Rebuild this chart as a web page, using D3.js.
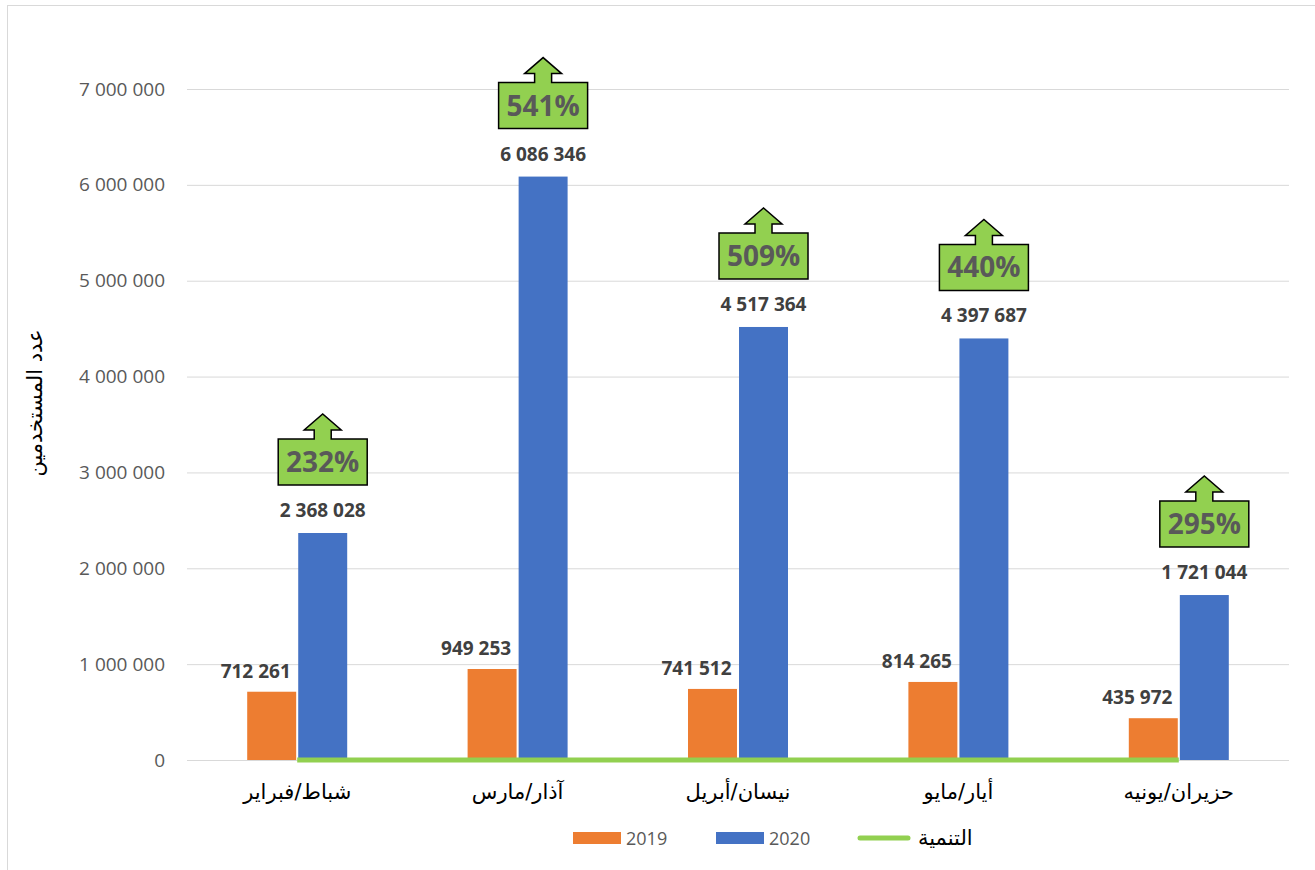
<!DOCTYPE html>
<html>
<head>
<meta charset="utf-8">
<script src="https://cdn.jsdelivr.net/npm/d3@7"></script>
<style>
  body { margin: 0; background: #fff; }
  svg { display: block; }
</style>
</head>
<body>
<div id="chart"></div>
<script>
var w = 1315;
var h = 870;

// data
var months = ["شباط/فبراير", "آذار/مارس", "نيسان/أبريل", "أيار/مايو", "حزيران/يونيه"];
var users2019 = [712261, 949253, 741512, 814265, 435972];
var users2020 = [2368028, 6086346, 4517364, 4397687, 1721044];
var growth = [2.32, 5.41, 5.09, 4.40, 2.95];
var yTicks = [0, 1000000, 2000000, 3000000, 4000000, 5000000, 6000000, 7000000];
var seriesNames = ["2019", "2020"];
var lineName = "التنمية";
var yTitle = "عدد المستخدمين";

var colors = { "2019": "#ED7D31", "2020": "#4472C4" };
var green = "#92D050";

var svg = d3.select("#chart")
            .append("svg")
            .attr("width", w)
            .attr("height", h);

// chart border
svg.append("rect")
    .attr("x", 7.5).attr("y", 5.5)
    .attr("width", 1400).attr("height", 1000)
    .attr("fill", "none")
    .attr("stroke", "#d9d9d9");

var plot = { left: 187, right: 1289, top: 89, bottom: 760 };

var x0 = d3.scaleBand()
    .domain(months)
    .range([plot.left, plot.right])
    .padding(0);

var x1 = d3.scaleBand()
    .domain(seriesNames)
    .range([-50, 50])
    .paddingInner(0.04);

var y = d3.scaleLinear()
    .domain([0, 7000000])
    .range([plot.bottom, plot.top]);

var loc = d3.formatLocale({ decimal: ",", thousands: " ", grouping: [3], currency: ["", ""] });
var fmt = loc.format(",");
var pct = d3.format(".0%");

// gridlines + y tick labels
var yAxis = d3.axisLeft(y)
    .tickValues(yTicks)
    .tickSize(-(plot.right - plot.left))
    .tickPadding(22)
    .tickFormat(fmt);

var gy = svg.append("g")
    .attr("transform", "translate(" + plot.left + ",0)")
    .call(yAxis);
gy.select(".domain").remove();
gy.selectAll(".tick line").attr("stroke", "#d9d9d9").attr("stroke-width", 1);
gy.selectAll(".tick text")
    .attr("fill", "#595959")
    .style("font-family", "'Open Sans', sans-serif")
    .style("font-size", "19px");

// x labels
var xAxis = d3.axisBottom(x0).tickSize(0).tickPadding(24);
var gx = svg.append("g")
    .attr("transform", "translate(0," + plot.bottom + ")")
    .call(xAxis);
gx.select(".domain").remove();
gx.selectAll(".tick text")
    .attr("fill", "#000")
    .style("font-family", "'DejaVu Sans', sans-serif")
    .style("font-size", "21px");

// y title
svg.append("text")
    .attr("transform", "translate(42,403) rotate(-90)")
    .attr("text-anchor", "middle")
    .attr("fill", "#000")
    .style("font-family", "'DejaVu Sans', sans-serif")
    .style("font-size", "21px")
    .text(yTitle);

// bars
var rows = months.map(function(m, i) {
    return { month: m, values: [
        { key: "2019", value: users2019[i] },
        { key: "2020", value: users2020[i] }
    ], growth: growth[i] };
});

var groups = svg.selectAll("g.month")
    .data(rows)
    .enter()
    .append("g")
    .attr("class", "month")
    .attr("transform", function(d) {
        return "translate(" + (x0(d.month) + x0.bandwidth() / 2) + ",0)";
    });

groups.selectAll("rect")
    .data(function(d) { return d.values; })
    .enter()
    .append("rect")
    .attr("x", function(d) { return x1(d.key); })
    .attr("y", function(d) { return y(d.value); })
    .attr("width", x1.bandwidth())
    .attr("height", function(d) { return y(0) - y(d.value); })
    .attr("fill", function(d) { return colors[d.key]; });

// value labels
groups.selectAll("text.val")
    .data(function(d) { return d.values; })
    .enter()
    .append("text")
    .attr("class", "val")
    .attr("x", function(d) { return x1(d.key) + x1.bandwidth() / 2 + (d.key == "2019" ? -16 : 0); })
    .attr("y", function(d) { return y(d.value) - (d.key == "2019" ? 14 : 16); })
    .attr("text-anchor", "middle")
    .attr("fill", "#404040")
    .style("font-family", "'Open Sans', sans-serif")
    .style("font-weight", "bold")
    .style("font-size", "19px")
    .text(function(d) { return fmt(d.value); });

// growth line (on the primary axis, so it sits on zero)
var line = d3.line()
    .x(function(d) { return x0(d.month) + x0.bandwidth() / 2; })
    .y(function(d) { return y(d.growth); });

svg.append("path")
    .datum(rows)
    .attr("d", line)
    .attr("fill", "none")
    .attr("stroke", green)
    .attr("stroke-width", 5);

// growth callouts (arrow boxes)
var bw = 89, bh = 46, sw = 8.5, hw = 18.5, hh = 16, sh = 9;
var callouts = groups.append("g")
    .attr("transform", function(d) {
        var cx = x1("2020") + x1.bandwidth() / 2;
        return "translate(" + cx + "," + (y(d.values[1].value) - 94) + ")";
    });

callouts.append("path")
    .attr("d", "M" + (-bw / 2) + ",0 H" + (-sw) + " V" + (-sh) + " H" + (-hw) +
        " L0," + (-sh - hh) + " L" + hw + "," + (-sh) + " H" + sw + " V0 H" + (bw / 2) +
        " V" + bh + " H" + (-bw / 2) + " Z")
    .attr("fill", green)
    .attr("stroke", "#000")
    .attr("stroke-width", 1.5);

callouts.append("text")
    .attr("x", 0)
    .attr("y", bh / 2 + 10)
    .attr("text-anchor", "middle")
    .attr("fill", "#595959")
    .style("font-family", "'Open Sans', sans-serif")
    .style("font-weight", "bold")
    .style("font-size", "28px")
    .text(function(d) { return pct(d.growth); });

// legend
var legend = svg.append("g").attr("transform", "translate(573,838)");
seriesNames.forEach(function(s, i) {
    var g = legend.append("g").attr("transform", "translate(" + (i * 143) + ",0)");
    g.append("rect").attr("x", 0).attr("y", -6).attr("width", 48).attr("height", 12)
        .attr("fill", colors[s]);
    g.append("text").attr("x", 53).attr("y", 7)
        .attr("fill", "#595959")
        .style("font-family", "'Open Sans', sans-serif")
        .style("font-size", "18px")
        .text(s);
});
var lg = legend.append("g").attr("transform", "translate(285,0)");
lg.append("line").attr("x1", 2).attr("x2", 50).attr("y1", 0).attr("y2", 0)
    .attr("stroke", green).attr("stroke-width", 5).attr("stroke-linecap", "round");
lg.append("text").attr("x", 60).attr("y", 7)
    .attr("fill", "#000")
    .style("font-family", "'DejaVu Sans', sans-serif")
    .style("font-size", "21px")
    .text(lineName);
</script>
</body>
</html>
